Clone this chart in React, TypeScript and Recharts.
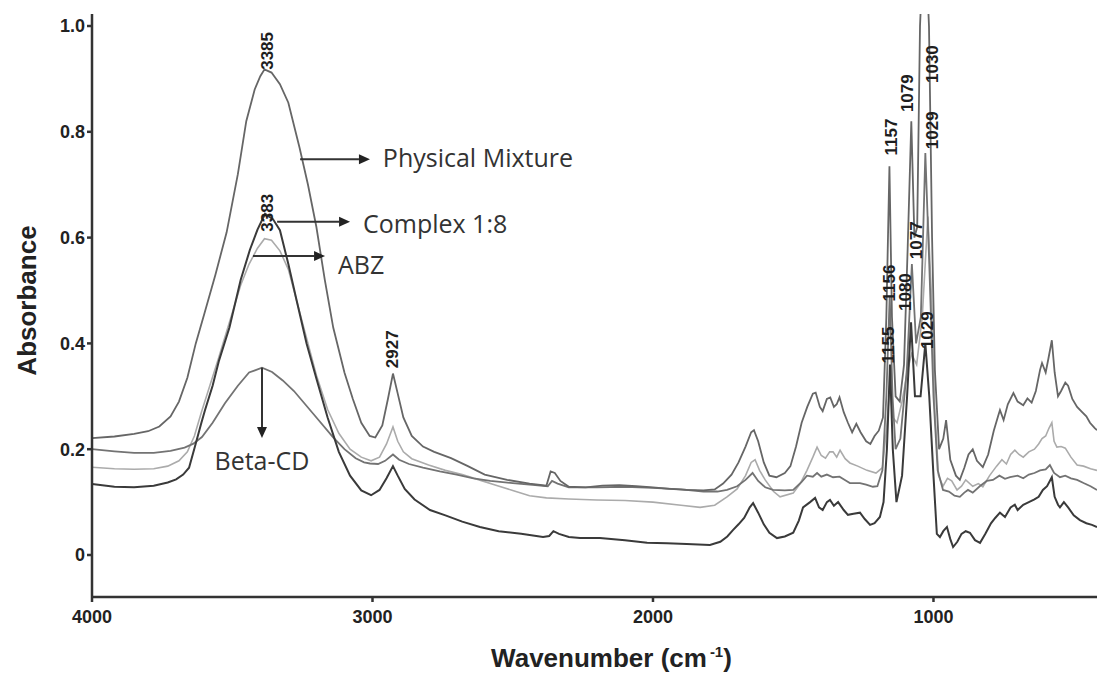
import React from "react"
import { LineChart, Line, XAxis, YAxis, ReferenceLine, ReferenceDot } from "recharts"

// [wavenumber cm-1, absorbance]
const physicalMixture: number[][] = [
  [4000, 0.221], [3920, 0.224], [3850, 0.229], [3800, 0.234], [3760, 0.243], [3720, 0.262], [3690, 0.29],
  [3660, 0.335], [3630, 0.4], [3600, 0.455], [3560, 0.53], [3520, 0.61], [3480, 0.72], [3450, 0.82],
  [3420, 0.88], [3400, 0.905], [3385, 0.918], [3360, 0.912], [3330, 0.89], [3300, 0.855], [3260, 0.77],
  [3230, 0.7], [3200, 0.62], [3170, 0.52], [3140, 0.43], [3100, 0.345], [3070, 0.295], [3040, 0.25],
  [3010, 0.225], [2990, 0.222], [2965, 0.245], [2945, 0.295], [2927, 0.343], [2910, 0.305], [2890, 0.26],
  [2860, 0.225], [2820, 0.205], [2780, 0.195], [2720, 0.183], [2660, 0.168], [2600, 0.152], [2520, 0.142],
  [2440, 0.135], [2380, 0.131], [2365, 0.158], [2350, 0.155], [2330, 0.14], [2300, 0.129], [2240, 0.128],
  [2180, 0.131], [2120, 0.132], [2060, 0.13], [2000, 0.128], [1940, 0.125], [1880, 0.123], [1820, 0.122],
  [1780, 0.124], [1750, 0.135], [1720, 0.152], [1695, 0.175], [1670, 0.205], [1650, 0.232], [1640, 0.236],
  [1625, 0.215], [1605, 0.175], [1585, 0.15], [1560, 0.147], [1530, 0.155], [1510, 0.168], [1490, 0.205],
  [1470, 0.25], [1450, 0.28], [1430, 0.305], [1420, 0.307], [1405, 0.28], [1395, 0.272], [1380, 0.295],
  [1368, 0.298], [1355, 0.28], [1345, 0.285], [1335, 0.298], [1320, 0.27], [1305, 0.25], [1290, 0.232],
  [1275, 0.248], [1260, 0.232], [1240, 0.215], [1225, 0.21], [1210, 0.225], [1195, 0.235], [1180, 0.26],
  [1168, 0.45], [1157, 0.735], [1148, 0.45], [1135, 0.3], [1120, 0.29], [1105, 0.36], [1092, 0.58],
  [1079, 0.82], [1068, 0.6], [1058, 0.62], [1048, 1.0], [1032, 1.2], [1016, 1.0], [1005, 0.6], [995, 0.35],
  [980, 0.2], [965, 0.22], [955, 0.255], [940, 0.18], [920, 0.15], [906, 0.142], [890, 0.165], [875, 0.19],
  [860, 0.2], [845, 0.178], [824, 0.166], [805, 0.19], [785, 0.235], [770, 0.262], [763, 0.274], [750, 0.255],
  [735, 0.285], [715, 0.306], [700, 0.29], [680, 0.283], [665, 0.296], [650, 0.288], [635, 0.31], [620, 0.35],
  [613, 0.363], [600, 0.345], [590, 0.372], [578, 0.406], [568, 0.345], [556, 0.3], [545, 0.31], [530, 0.326],
  [520, 0.32], [505, 0.295], [488, 0.28], [470, 0.27], [455, 0.262], [442, 0.25], [425, 0.24], [417, 0.236],
]

const betaCD: number[][] = [
  [4000, 0.2], [3920, 0.196], [3850, 0.193], [3780, 0.193], [3720, 0.197], [3670, 0.203], [3640, 0.21],
  [3608, 0.223], [3570, 0.25], [3526, 0.287], [3480, 0.32], [3440, 0.345], [3394, 0.354], [3358, 0.346],
  [3320, 0.33], [3280, 0.31], [3240, 0.285], [3200, 0.26], [3141, 0.223], [3100, 0.2], [3060, 0.183],
  [3030, 0.175], [3009, 0.173], [2980, 0.172], [2955, 0.178], [2927, 0.19], [2905, 0.18], [2870, 0.172],
  [2820, 0.165], [2760, 0.158], [2700, 0.152], [2640, 0.145], [2580, 0.14], [2500, 0.136], [2420, 0.132],
  [2375, 0.13], [2360, 0.14], [2340, 0.135], [2300, 0.128], [2200, 0.128], [2100, 0.129], [2000, 0.127],
  [1900, 0.124], [1820, 0.12], [1770, 0.12], [1736, 0.123], [1700, 0.13], [1670, 0.142], [1645, 0.155],
  [1625, 0.14], [1600, 0.128], [1572, 0.123], [1530, 0.122], [1500, 0.123], [1470, 0.138], [1451, 0.15],
  [1430, 0.148], [1415, 0.155], [1400, 0.148], [1380, 0.152], [1358, 0.147], [1335, 0.148], [1310, 0.14],
  [1298, 0.136], [1262, 0.136], [1240, 0.133], [1216, 0.129], [1200, 0.13], [1182, 0.16], [1168, 0.3],
  [1156, 0.49], [1146, 0.3], [1135, 0.2], [1118, 0.22], [1095, 0.35], [1077, 0.55], [1062, 0.4], [1045, 0.45],
  [1029, 0.76], [1015, 0.55], [1000, 0.3], [985, 0.16], [966, 0.123], [945, 0.12], [925, 0.112], [906, 0.11],
  [890, 0.118], [877, 0.123], [860, 0.118], [835, 0.13], [810, 0.14], [788, 0.142], [765, 0.15], [745, 0.144],
  [727, 0.147], [700, 0.15], [680, 0.145], [660, 0.152], [640, 0.155], [620, 0.16], [600, 0.162], [585, 0.17],
  [570, 0.155], [549, 0.147], [530, 0.15], [510, 0.145], [488, 0.142], [465, 0.136], [440, 0.13], [417, 0.123],
]

const abz: number[][] = [
  [4000, 0.166], [3920, 0.163], [3850, 0.162], [3780, 0.163], [3730, 0.168], [3690, 0.178], [3660, 0.195],
  [3635, 0.225], [3610, 0.27], [3580, 0.32], [3550, 0.37], [3510, 0.44], [3470, 0.51], [3440, 0.55],
  [3410, 0.58], [3385, 0.598], [3360, 0.595], [3330, 0.575], [3300, 0.54], [3270, 0.48], [3235, 0.41],
  [3200, 0.34], [3160, 0.275], [3120, 0.23], [3080, 0.2], [3040, 0.185], [3005, 0.178], [2975, 0.185],
  [2950, 0.21], [2927, 0.242], [2910, 0.215], [2890, 0.195], [2860, 0.182], [2800, 0.17], [2740, 0.16],
  [2680, 0.152], [2620, 0.142], [2560, 0.132], [2500, 0.122], [2440, 0.112], [2380, 0.108], [2300, 0.106],
  [2200, 0.104], [2100, 0.103], [2000, 0.1], [1900, 0.094], [1832, 0.09], [1780, 0.094], [1736, 0.11],
  [1700, 0.125], [1670, 0.15], [1650, 0.175], [1636, 0.18], [1620, 0.16], [1600, 0.142], [1570, 0.12],
  [1547, 0.11], [1500, 0.117], [1475, 0.135], [1451, 0.16], [1430, 0.185], [1415, 0.204], [1400, 0.188],
  [1385, 0.183], [1370, 0.195], [1358, 0.195], [1345, 0.185], [1333, 0.198], [1315, 0.182], [1298, 0.174],
  [1270, 0.168], [1237, 0.16], [1205, 0.155], [1182, 0.165], [1167, 0.24], [1156, 0.32], [1145, 0.26],
  [1130, 0.25], [1112, 0.29], [1092, 0.35], [1078, 0.38], [1060, 0.36], [1040, 0.45], [1020, 0.64],
  [1008, 0.5], [995, 0.27], [982, 0.15], [966, 0.13], [950, 0.145], [935, 0.14], [916, 0.123], [900, 0.13],
  [885, 0.142], [860, 0.13], [840, 0.135], [824, 0.129], [800, 0.15], [775, 0.168], [756, 0.18], [740, 0.172],
  [725, 0.19], [710, 0.198], [695, 0.19], [680, 0.185], [660, 0.195], [640, 0.2], [625, 0.21], [613, 0.22],
  [600, 0.225], [588, 0.24], [578, 0.25], [570, 0.215], [560, 0.204], [545, 0.205], [530, 0.202], [510, 0.185],
  [488, 0.17], [465, 0.168], [440, 0.163], [417, 0.16],
]

const complex18: number[][] = [
  [4000, 0.134], [3920, 0.129], [3850, 0.128], [3780, 0.131], [3730, 0.137], [3700, 0.143], [3675, 0.152],
  [3654, 0.165], [3633, 0.205], [3610, 0.25], [3597, 0.274], [3570, 0.32], [3547, 0.368], [3510, 0.43],
  [3470, 0.52], [3437, 0.577], [3410, 0.615], [3383, 0.645], [3355, 0.635], [3330, 0.614], [3300, 0.55],
  [3270, 0.48], [3235, 0.4], [3198, 0.33], [3160, 0.26], [3120, 0.195], [3080, 0.15], [3040, 0.122],
  [3005, 0.113], [2975, 0.123], [2950, 0.145], [2927, 0.168], [2910, 0.15], [2885, 0.125], [2850, 0.105],
  [2795, 0.085], [2740, 0.075], [2680, 0.063], [2617, 0.053], [2550, 0.045], [2470, 0.04], [2392, 0.034],
  [2370, 0.036], [2355, 0.045], [2335, 0.04], [2300, 0.034], [2260, 0.032], [2189, 0.032], [2100, 0.028],
  [2021, 0.023], [1950, 0.022], [1880, 0.021], [1797, 0.019], [1760, 0.025], [1735, 0.035], [1715, 0.047],
  [1695, 0.058], [1675, 0.07], [1655, 0.09], [1643, 0.098], [1625, 0.08], [1605, 0.058], [1585, 0.042],
  [1558, 0.032], [1530, 0.035], [1500, 0.042], [1480, 0.065], [1465, 0.09], [1440, 0.1], [1422, 0.108],
  [1408, 0.09], [1395, 0.085], [1380, 0.1], [1369, 0.104], [1355, 0.093], [1340, 0.1], [1320, 0.085],
  [1305, 0.076], [1285, 0.078], [1262, 0.08], [1245, 0.068], [1226, 0.057], [1210, 0.06], [1191, 0.072],
  [1178, 0.1], [1166, 0.2], [1155, 0.36], [1145, 0.2], [1132, 0.1], [1112, 0.15], [1094, 0.3], [1080, 0.44],
  [1066, 0.3], [1046, 0.3], [1029, 0.4], [1015, 0.3], [1000, 0.15], [988, 0.04], [977, 0.034], [965, 0.045],
  [952, 0.053], [940, 0.03], [930, 0.015], [915, 0.025], [900, 0.04], [885, 0.045], [870, 0.042], [852, 0.028],
  [834, 0.023], [815, 0.04], [795, 0.06], [780, 0.07], [763, 0.08], [745, 0.072], [725, 0.09], [710, 0.095],
  [700, 0.085], [680, 0.095], [660, 0.1], [640, 0.105], [625, 0.11], [610, 0.123], [595, 0.13], [578, 0.147],
  [568, 0.11], [556, 0.095], [549, 0.09], [535, 0.1], [520, 0.09], [500, 0.075], [478, 0.066], [455, 0.06],
  [435, 0.057], [417, 0.053],
]

const wavenumberTicks = [4000, 3000, 2000, 1000]
const absorbanceTicks = [0, 0.2, 0.4, 0.6, 0.8, 1.0]

// rotated peak labels: [text, wavenumber, absorbance of label centre]
const peakLabels: [string, number, number][] = [
  ["3385", 3373, 0.953],
  ["3383", 3376, 0.647],
  ["2927", 2930, 0.389],
  ["1157", 1151, 0.79],
  ["1079", 1091, 0.873],
  ["1030", 1005, 0.928],
  ["1029", 1005, 0.803],
  ["1077", 1059, 0.595],
  ["1156", 1155, 0.514],
  ["1080", 1098, 0.497],
  ["1155", 1162, 0.397],
  ["1029", 1023, 0.425],
]

// series name arrows: [name, x1, y1, x2, y2, text x, text y, anchor]
const seriesArrows: [string, number, number, number, number, number, number, string][] = [
  ["Physical Mixture", 3258, 0.748, 3009, 0.748, 2963, 0.752, "start"],
  ["Complex 1:8", 3340, 0.63, 3080, 0.63, 3034, 0.627, "start"],
  ["ABZ", 3426, 0.565, 3169, 0.565, 3123, 0.55, "start"],
  ["Beta-CD", 3394, 0.354, 3394, 0.221, 3394, 0.179, "middle"],
]

const toPoints = (s: number[][]) => s.map(([w, a]) => ({ w, a }))

const Arrow = (p: any) => {
  const { x1, y1, x2, y2 } = p
  const dx = x2 - x1
  const dy = y2 - y1
  const len = Math.hypot(dx, dy) || 1
  const ux = dx / len
  const uy = dy / len
  const L = 11
  const W = 5
  const bx = x2 - ux * L
  const by = y2 - uy * L
  return (
    <g>
      <line x1={x1} y1={y1} x2={bx} y2={by} stroke="#333" strokeWidth={2} />
      <polygon points={`${x2},${y2} ${bx - uy * W},${by + ux * W} ${bx + uy * W},${by - ux * W}`} fill="#222" />
    </g>
  )
}

const tickStyle = { fill: "#222", fontSize: 18, fontWeight: 700, fontFamily: "'Liberation Sans', Arial, sans-serif" }
const axisStroke = { stroke: "#333", strokeWidth: 2.5 }

export default function App() {
  return (
    <div style={{ position: "absolute", left: 0, top: 0, background: "#fff" }}>
      <LineChart width={1097} height={673} margin={{ top: 14, right: 0, bottom: 0, left: 0 }}>
        <XAxis
          dataKey="w"
          type="number"
          domain={[417, 4000]}
          reversed
          allowDataOverflow
          ticks={wavenumberTicks}
          interval={0}
          tickSize={5}
          tickMargin={8}
          height={76}
          tick={tickStyle}
          tickLine={axisStroke}
          axisLine={axisStroke}
          label={(props: any) => {
            const vb = props.viewBox || { x: 92, y: 597, width: 1005 }
            const cx = vb.x + vb.width / 2 + 17
            return (
              <text x={cx} y={vb.y + 70} textAnchor="middle" fill="#222" fontSize={26} fontWeight={700}
                fontFamily="'Liberation Sans', Arial, sans-serif">
                Wavenumber (cm
                <tspan dx={3} dy={-10} fontSize={15}>-1</tspan>
                <tspan dy={10}>)</tspan>
              </text>
            )
          }}
        />
        <XAxis xAxisId="top" orientation="top" type="number" domain={[417, 4000]} reversed height={0}
          tick={false} tickLine={false} axisLine={axisStroke} />
        <YAxis
          type="number"
          domain={[-0.0794, 1.0227]}
          allowDataOverflow
          ticks={absorbanceTicks}
          interval={0}
          width={92}
          tickSize={5}
          tickMargin={2}
          tick={tickStyle}
          tickLine={axisStroke}
          axisLine={axisStroke}
          tickFormatter={(v: number) => (v === 0 ? "0" : v.toFixed(1))}
          label={(props: any) => {
            const vb = props.viewBox || { x: 0, y: 14, height: 583 }
            const x = vb.x + 27
            const y = vb.y + vb.height / 2 - 5
            return (
              <text x={x} y={y} transform={`rotate(-90 ${x} ${y})`} textAnchor="middle" dominantBaseline="central"
                fill="#222" fontSize={26} fontWeight={700} fontFamily="'Liberation Sans', Arial, sans-serif">
                Absorbance
              </text>
            )
          }}
        />

        <Line data={toPoints(abz)} dataKey="a" type="linear" stroke="#ababab" strokeWidth={1.6} dot={false} isAnimationActive={false} />
        <Line data={toPoints(betaCD)} dataKey="a" type="linear" stroke="#737373" strokeWidth={1.8} dot={false} isAnimationActive={false} />
        <Line data={toPoints(physicalMixture)} dataKey="a" type="linear" stroke="#666" strokeWidth={1.8} dot={false} isAnimationActive={false} />
        <Line data={toPoints(complex18)} dataKey="a" type="linear" stroke="#3a3a3a" strokeWidth={2} dot={false} isAnimationActive={false} />

        {seriesArrows.map(([name, x1, y1, x2, y2]) => (
          <ReferenceLine key={"arr-" + name} segment={[{ x: x1, y: y1 }, { x: x2, y: y2 }]} shape={Arrow} />
        ))}
        {seriesArrows.map(([name, , , , , tx, ty, anchor]) => (
          <ReferenceDot
            key={"txt-" + name}
            x={tx}
            y={ty}
            r={0}
            shape={(p: any) => (
              <text x={p.cx} y={p.cy} textAnchor={anchor as any} dominantBaseline="central" fill="#333"
                fontSize={25} fontFamily="'Open Sans', 'Noto Sans', sans-serif">
                {name}
              </text>
            )}
          />
        ))}
        {peakLabels.map(([t, w, a], i) => (
          <ReferenceDot
            key={"pk-" + i}
            x={w}
            y={a}
            r={0}
            shape={(p: any) => (
              <text x={p.cx} y={p.cy} transform={`rotate(-90 ${p.cx} ${p.cy})`} textAnchor="middle"
                dominantBaseline="central" fill="#1e1e1e" fontSize={17} fontWeight={700}
                fontFamily="'Liberation Sans', Arial, sans-serif">
                {t}
              </text>
            )}
          />
        ))}
      </LineChart>
    </div>
  )
}
